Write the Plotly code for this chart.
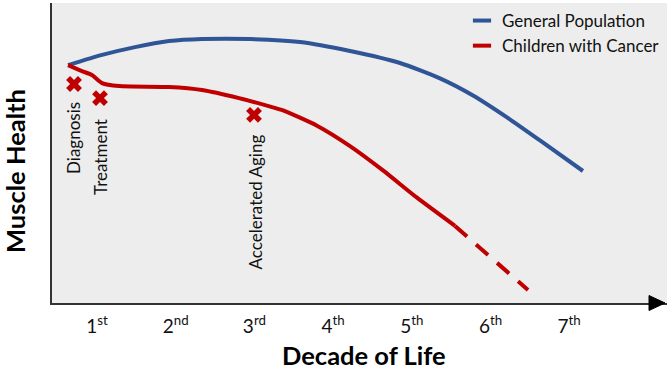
import plotly.graph_objects as go

# ---- data ----
decades = [1, 2, 3, 4, 5, 6, 7]
decade_labels = ["1<sup>st</sup>", "2<sup>nd</sup>", "3<sup>rd</sup>", "4<sup>th</sup>",
                 "5<sup>th</sup>", "6<sup>th</sup>", "7<sup>th</sup>"]

gen_x = [0.632, 1.064, 1.483, 1.915, 2.334, 2.944, 3.580, 4.215, 4.850, 5.358, 5.778, 6.210, 6.629, 7.175]
gen_y = [79.3, 82.7, 85.3, 87.3, 88.0, 88.0, 87.0, 84.0, 80.0, 74.9, 69.2, 61.9, 54.2, 44.0]

can_x = [0.632, 0.809, 0.936, 1.064, 1.280, 1.915, 2.334, 2.804, 3.224, 3.364, 3.795, 4.215, 4.634, 5.066, 5.549]
can_y = [79.3, 77.3, 76.0, 73.3, 72.3, 72.0, 71.0, 68.3, 65.3, 64.2, 59.1, 52.3, 44.2, 35.1, 25.7]

proj_x = [5.549, 6.019, 6.477]
proj_y = [25.7, 14.7, 4.3]

event_labels = ["Diagnosis", "Treatment", "Accelerated Aging"]
event_x = [0.708, 1.038, 2.995]
event_y = [73.0, 68.3, 62.7]
label_x = [0.708, 1.038, 3.008]
label_top = [67.7, 62.0, 56.7]

BLUE = "#2F5597"
RED = "#C00000"
FONT = "Lato"

fig = go.Figure()

fig.add_trace(go.Scatter(x=gen_x, y=gen_y, mode="lines", line=dict(color=BLUE, width=4, shape="spline", smoothing=0.6),
                         showlegend=False, hoverinfo="skip"))
fig.add_trace(go.Scatter(x=can_x, y=can_y, mode="lines", line=dict(color=RED, width=4, shape="spline", smoothing=0.6),
                         showlegend=False, hoverinfo="skip"))
fig.add_trace(go.Scatter(x=proj_x, y=proj_y, mode="lines", line=dict(color=RED, width=4, dash="16px,12px"),
                         showlegend=False, hoverinfo="skip"))
fig.add_trace(go.Scatter(x=event_x, y=event_y, mode="markers",
                         marker=dict(symbol="x", size=14, color=RED, line=dict(width=0)),
                         showlegend=False, hoverinfo="skip"))

# legend entries
fig.add_trace(go.Scatter(x=[None], y=[None], mode="markers", name="General Population",
                         marker=dict(symbol="line-ew", size=13, color=BLUE, line=dict(width=4, color=BLUE))))
fig.add_trace(go.Scatter(x=[None], y=[None], mode="markers", name="Children with Cancer",
                         marker=dict(symbol="line-ew", size=13, color=RED, line=dict(width=4, color=RED))))

for t, x, y in zip(event_labels, label_x, label_top):
    fig.add_annotation(x=x, y=y, xref="x", yref="y", text=t, showarrow=False, textangle=-90,
                       xanchor="center", yanchor="top", font=dict(family=FONT, size=17, color="#111"))

fig.add_annotation(xref="paper", yref="paper", x=(15 - 52) / 615, y=(303 - 171) / 300, text="<b>Muscle Health</b>",
                   showarrow=False, textangle=-90, xanchor="center", yanchor="middle", borderpad=0,
                   font=dict(family=FONT, size=25.5, color="#000"))
fig.add_annotation(xref="paper", yref="paper", x=(364 - 52) / 615, y=(303 - 355) / 300, text="<b>Decade of Life</b>",
                   showarrow=False, xanchor="center", yanchor="middle", borderpad=0,
                   font=dict(family=FONT, size=25.5, color="#000"))

# arrow head on x axis
fig.add_shape(type="path", xref="paper", yref="paper", xsizemode="pixel", ysizemode="pixel",
              xanchor=1, yanchor=0, path="M -18,-7.5 L -2,0 L -18,7.5 Z",
              fillcolor="#000", line=dict(color="#000", width=1), layer="above")

fig.update_layout(
    width=667, height=371,
    margin=dict(l=52, r=0, t=3, b=68),
    plot_bgcolor="#EDEDED", paper_bgcolor="#FFFFFF",
    font=dict(family=FONT, color="#111"),
    legend=dict(x=(462 - 52) / 615, y=1, xanchor="left", yanchor="top", bgcolor="rgba(0,0,0,0)",
                font=dict(family=FONT, size=17, color="#111"), itemwidth=30, tracegroupgap=0),
    xaxis=dict(range=[0.428, 8.243], showline=True, linecolor="#333", linewidth=2, ticks="",
               tickvals=decades, ticktext=decade_labels, showgrid=False, zeroline=False,
               tickfont=dict(family=FONT, size=19, color="#111"), ticklabelstandoff=5, fixedrange=True),
    yaxis=dict(range=[0, 100], showline=True, linecolor="#333", linewidth=1.5, ticks="",
               showticklabels=False, showgrid=False, zeroline=False, fixedrange=True),
)

fig.write_html("out.html", config={"displayModeBar": False},
               post_script="document.body.style.margin='0px';")
